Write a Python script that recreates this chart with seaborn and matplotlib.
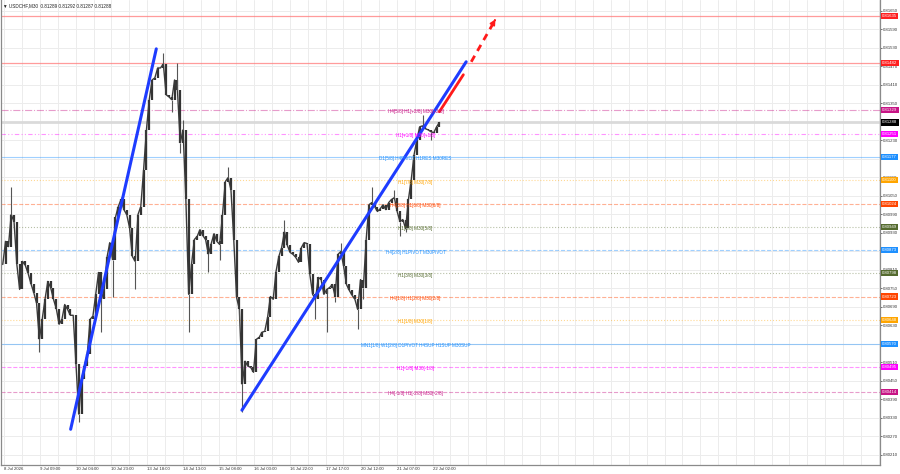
import numpy as np
import matplotlib
matplotlib.use("Agg")
import matplotlib.pyplot as plt
import matplotlib.transforms as mtransforms
import seaborn as sns

sns.set_theme(style="white")
plt.rcParams['font.family'] = ['Liberation Sans', 'DejaVu Sans']

# =========================
#  DATA (USDCHF, M30, one sample every 3 bars)
# =========================

closes = [
    0.80827, 0.80902, 0.80885, 0.80989, 0.80966, 0.80827, 0.80746, 0.80837, 0.80824, 0.80798,
    0.80765, 0.80736, 0.80701, 0.80584, 0.80649, 0.80714, 0.80772, 0.80752, 0.80714, 0.80684,
    0.80633, 0.80649, 0.80697, 0.80681, 0.80662, 0.80662, 0.80503, 0.80341, 0.80454, 0.80497,
    0.80535, 0.80649, 0.80659, 0.80730, 0.80801, 0.80714, 0.80746, 0.80850, 0.80898, 0.80843,
    0.80980, 0.81015, 0.81038, 0.81005, 0.80989, 0.80947, 0.80853, 0.80837, 0.80989, 0.81015,
    0.81135, 0.81264, 0.81362, 0.81426, 0.81433, 0.81465, 0.81465, 0.81478, 0.81378, 0.81371,
    0.81362, 0.81426, 0.81394, 0.81222, 0.81264, 0.81038, 0.80730, 0.80827, 0.80908, 0.80918,
    0.80940, 0.80921, 0.80908, 0.80860, 0.80895, 0.80927, 0.80902, 0.80892, 0.80989, 0.81096,
    0.81109, 0.81070, 0.80908, 0.80720, 0.80681, 0.80438, 0.80513, 0.80497, 0.80493, 0.80477,
    0.80584, 0.80590, 0.80607, 0.80610, 0.80655, 0.80723, 0.80714, 0.80804, 0.80853, 0.80882,
    0.80934, 0.80889, 0.80866, 0.80860, 0.80850, 0.80834, 0.80882, 0.80898, 0.80895, 0.80795,
    0.80730, 0.80714, 0.80785, 0.80778, 0.80730, 0.80746, 0.80752, 0.80762, 0.80723, 0.80860,
    0.80869, 0.80821, 0.80762, 0.80743, 0.80727, 0.80714, 0.80681, 0.80778, 0.80752, 0.80908,
    0.81021, 0.81028, 0.81015, 0.80999, 0.81008, 0.81021, 0.81005, 0.81028, 0.81038, 0.81044,
    0.80999, 0.80966, 0.80973, 0.80944, 0.81038, 0.81102, 0.81183, 0.81232, 0.81274, 0.81277,
    0.81268, 0.81264, 0.81258, 0.81255, 0.81274, 0.81288,
]

wick_hi_idx = [3, 42, 57, 62, 64, 80, 100, 120, 131, 139, 149]
wick_hi_val = [0.81080, 0.81047, 0.81514, 0.81481, 0.81297, 0.81144, 0.80973, 0.80898, 0.81080, 0.81070, 0.81313]
wick_lo_idx = [13, 27, 35, 39, 47, 60, 63, 66, 73, 77, 84, 85, 111, 115, 118, 126, 128, 141, 143, 152]
wick_lo_val = [0.80542, 0.80315, 0.80607, 0.80723, 0.80746, 0.81323, 0.81190, 0.80607, 0.80801, 0.80843,
               0.80649, 0.80347, 0.80649, 0.80607, 0.80704, 0.80616, 0.80714, 0.80918, 0.80931, 0.81232]

# trend lines (sample index, price)
trend1_x = [24.1, 54.5]
trend1_y = [0.80292, 0.81527]
trend2_x = [84.9, 164.5]
trend2_y = [0.80354, 0.81485]
arrow_solid_x = [155.0, 163.5]
arrow_solid_y = [0.81323, 0.81443]
arrow_dash_x = [166.3, 174.8]
arrow_dash_y = [0.81485, 0.81621]

# horizontal levels
red_levels = [0.81635, 0.81482]
level_prices = [0.81329, 0.81251, 0.81177, 0.81100, 0.81024, 0.80949, 0.80873,
                0.80798, 0.80723, 0.80648, 0.80570, 0.80495, 0.80414]
level_colors = ['#c71585', '#ff00ff', '#1e90ff', '#ffa500', '#ff4500', '#556b2f', '#1e90ff',
                '#556b2f', '#ff4500', '#ffa500', '#1e90ff', '#ff00ff', '#c71585']
level_styles = ['-.', (0, (4, 2, 1, 2, 1, 2)), '-', ':', '--', ':', '--',
                ':', '--', ':', '-', '--', '--']
level_texts = [
    'H4[5/8] H1[+2/8] M30[+2/8]',
    'H1[+1/8] M30[+1/8]',
    'D1[5/8] H4PIVOT H1RES M30RES',
    'H1[7/8] M30[7/8]',
    'H4[3/8] H1[6/8] M30[6/8]',
    'H1[5/8] M30[5/8]',
    'H4[2/8] H1PIVOT M30PIVOT',
    'H1[3/8] M30[3/8]',
    'H4[1/8] H1[2/8] M30[2/8]',
    'H1[1/8] M30[1/8]',
    'MN1[1/8] W1[2/8] D1PIVOT H4SUP H1SUP M30SUP',
    'H1[-1/8] M30[-1/8]',
    'H4[-1/8] H1[-2/8] M30[-2/8]',
]
last_price = 0.81288

time_labels = ['8 Jul 2026', '9 Jul 09:00', '10 Jul 04:00', '10 Jul 23:00', '13 Jul 18:00',
               '14 Jul 13:00', '15 Jul 08:00', '16 Jul 03:00', '16 Jul 22:00', '17 Jul 17:00',
               '20 Jul 12:00', '21 Jul 07:00', '22 Jul 02:00']

price_ticks = [round(0.80210 + 0.0006 * i, 5) for i in range(25)]

# =========================
#  FIGURE
# =========================

FS = 3.3
FS_AX = 3.1

fig = plt.figure(figsize=(9, 4.74), dpi=100)
ax = fig.add_axes([0.0015, 9 / 474, 880 / 900 - 0.0015, 465 / 474])
ax.set_xlim(-0.5, 311.4)
ax.set_ylim(0.80176, 0.816856)

# grid
grid_x = np.arange(0.6, 312, 19 / 3)
for gx in grid_x:
    ax.axvline(gx, color='#ececec', lw=0.7, zorder=0)
for gy in price_ticks:
    ax.axhline(gy, color='#ececec', lw=0.7, zorder=0)

# current price line
ax.axhline(last_price, color='#dadada', lw=2.0, zorder=1)

# levels
for p in red_levels:
    ax.axhline(p, color='#ff7a7a', lw=0.9, alpha=0.75, zorder=2)
for p, c, ls, t in zip(level_prices, level_colors, level_styles, level_texts):
    ax.axhline(p, color=c, lw=0.8, ls=ls, alpha=0.42, zorder=2)
    ax.text(146.5, p - 0.00006, t, color=c, fontsize=FS, ha='center', va='center', zorder=6)

# price series: bodies from previous close, thin close line, wicks
x = np.arange(len(closes))
cl = np.array(closes)
opens = np.concatenate([[cl[0]], cl[:-1]])
ax.vlines(x, opens, cl, color='#333333', lw=1.6, zorder=4)
sns.lineplot(x=x, y=closes, ax=ax, color='#3a3a3a', lw=1.0, zorder=4)
ax.vlines(wick_hi_idx, cl[wick_hi_idx], wick_hi_val, color='#555555', lw=0.8, zorder=4)
ax.vlines(wick_lo_idx, wick_lo_val, cl[wick_lo_idx], color='#555555', lw=0.8, zorder=4)

# trend lines
sns.lineplot(x=trend1_x, y=trend1_y, ax=ax, color='#1e3cff', lw=2.2, zorder=5)
sns.lineplot(x=trend2_x, y=trend2_y, ax=ax, color='#1e3cff', lw=2.2, zorder=5)
ax.plot(arrow_solid_x, arrow_solid_y, color='#ff1a1a', lw=2, zorder=5)
ax.plot(arrow_dash_x, arrow_dash_y, color='#ff1a1a', lw=2, ls=(0, (2.5, 2)), zorder=5)
ax.annotate('', xy=(arrow_dash_x[1] + 0.6, arrow_dash_y[1] + 0.0001),
            xytext=(arrow_dash_x[1] - 0.6, arrow_dash_y[1] - 0.00009),
            arrowprops=dict(arrowstyle='-|>', color='#ff1a1a', lw=1.2, mutation_scale=8), zorder=6)

# axes look
ax.spines['top'].set_visible(False)
for side in ['left', 'right', 'bottom']:
    ax.spines[side].set_color('#8a8a8a')
    ax.spines[side].set_linewidth(0.9)

ax.yaxis.tick_right()
ax.set_yticks(price_ticks)
ax.set_yticklabels([f'{p:.5f}' for p in price_ticks], fontsize=FS_AX, color='#333333')
ax.tick_params(axis='y', length=1.2, width=0.5, pad=0.8, colors='#333333')

tick_x = [0.6 + i * 38 / 3 for i in range(len(time_labels))]
ax.set_xticks(tick_x)
ax.set_xticklabels(time_labels, fontsize=FS_AX, color='#333333', ha='left')
ax.tick_params(axis='x', length=1.2, width=0.5, pad=0.4, colors='#333333')
ax.set_xlabel('')
ax.set_ylabel('')

# price boxes on the right scale
trans = mtransforms.blended_transform_factory(ax.transAxes, ax.transData)
box_prices = red_levels + level_prices + [last_price]
box_colors = ['#ff2020', '#ff2020'] + level_colors + ['#000000']
for p, c in zip(box_prices, box_colors):
    ax.text(1.0025, p, f'{p:.5f}', transform=trans, fontsize=FS_AX, color='white',
            ha='left', va='center', zorder=7,
            bbox=dict(boxstyle='square,pad=0.25', fc=c, ec='none'))

fig.text(0.003, 0.994, '\u25bc USDCHF,M30  0.81289 0.81292 0.81287 0.81288',
         fontsize=FS, color='#222222', ha='left', va='top')

fig.savefig('out.png', dpi=100, facecolor='white')
